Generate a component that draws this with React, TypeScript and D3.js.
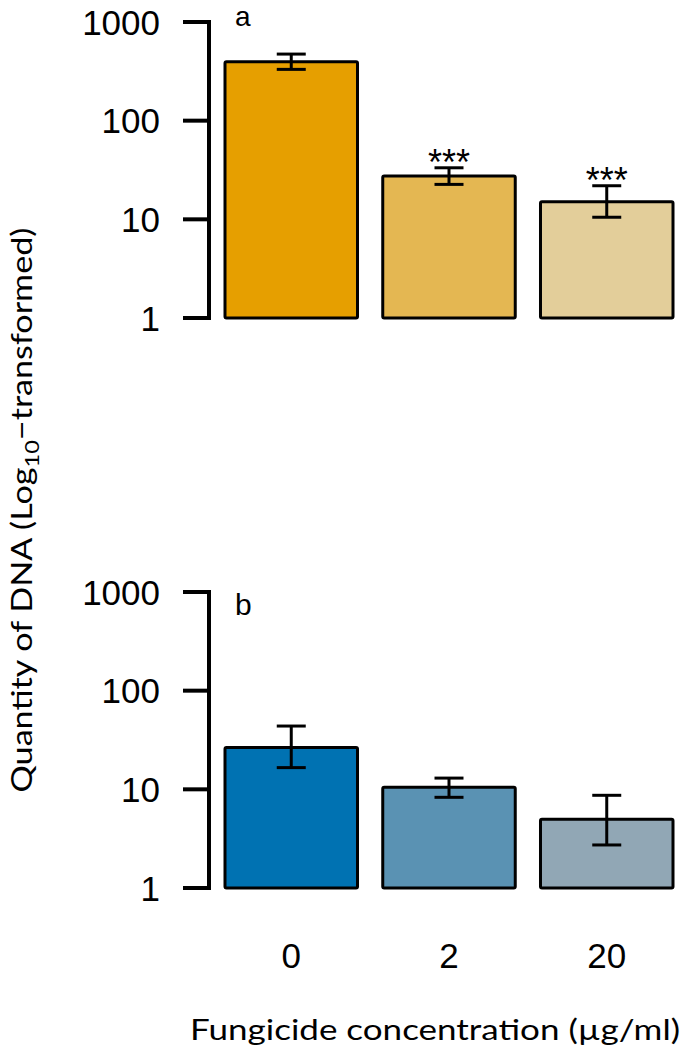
import React from "react";
import * as d3 from "d3";

const categories = ["0", "2", "20"];
const yTicks = [1, 10, 100, 1000];

const topMeans = [395, 27.5, 15.1];
const topUpper = [473, 33.3, 21.9];
const topLower = [331, 22.6, 10.5];
const topStars = ["", "***", "***"];
const topColors = ["#E69F00", "#E4B752", "#E3CE9A"];

const botMeans = [26.6, 10.5, 4.97];
const botUpper = [43.8, 13.0, 8.7];
const botLower = [16.6, 8.3, 2.73];
const botColors = ["#0072B2", "#5A92B3", "#91A7B5"];

const xTitle = "Fungicide concentration (µg/ml)";

const TICKFONT = "'Liberation Sans', Arial, Helvetica, sans-serif";
const TITLEFONT = "Lato, 'Open Sans', sans-serif";

const x = d3.scaleBand<string>().domain(categories).range([225, 673]).paddingInner(0.16).paddingOuter(0);

function Panel({ y, means, upper, lower, colors, stars, letter, letterY, letterSize }: any) {
  const axisX = 209;
  return (
    <g>
      <path d={`M${axisX - 26},${y(1000)}H${axisX}V${y(1)}H${axisX - 26}`} fill="none" stroke="#000" strokeWidth={4} strokeLinejoin="miter" />
      {yTicks.map((t) => (
        <g key={t}>
          <line x1={axisX - 26} x2={axisX} y1={y(t)} y2={y(t)} stroke="#000" strokeWidth={4} />
          <text x={160} y={y(t) + 12.5} textAnchor="end" fontFamily={TICKFONT} fontSize={35} fill="#000">
            {t}
          </text>
        </g>
      ))}
      <text x={235} y={letterY} fontFamily={TICKFONT} fontSize={letterSize} fill="#000">{letter}</text>
      {categories.map((c, i) => {
        const bx = x(c)!;
        const bw = x.bandwidth();
        const cx = bx + bw / 2;
        return (
          <g key={c}>
            <rect x={bx} y={y(means[i])} width={bw} height={y(1) - y(means[i])} fill={colors[i]} stroke="#000" strokeWidth={3} rx={1.5} />
            <line x1={cx} x2={cx} y1={y(upper[i])} y2={y(lower[i])} stroke="#000" strokeWidth={3} />
            <line x1={cx - 14.5} x2={cx + 14.5} y1={y(upper[i])} y2={y(upper[i])} stroke="#000" strokeWidth={3} />
            <line x1={cx - 14.5} x2={cx + 14.5} y1={y(lower[i])} y2={y(lower[i])} stroke="#000" strokeWidth={3} />
            {stars && stars[i] ? (
              <text x={cx} y={y(upper[i]) + 7} textAnchor="middle" fontFamily={TICKFONT} fontSize={36} fill="#000">
                {stars[i]}
              </text>
            ) : null}
          </g>
        );
      })}
    </g>
  );
}

export default function App() {
  const yTop = d3.scaleLog().domain([1, 1000]).range([318, 22]);
  const yBot = d3.scaleLog().domain([1, 1000]).range([888, 592]);
  return (
    <svg width={685} height={1048} style={{ position: "absolute", left: 0, top: 0, background: "#fff" }}>
      <rect width={685} height={1048} fill="#fff" />
      <Panel y={yTop} means={topMeans} upper={topUpper} lower={topLower} colors={topColors} stars={topStars} letter="a" letterY={26} letterSize={28} />
      <Panel y={yBot} means={botMeans} upper={botUpper} lower={botLower} colors={botColors} stars={null} letter="b" letterY={615} letterSize={30} />
      {categories.map((c) => (
        <text key={c} x={x(c)! + x.bandwidth() / 2} y={968} textAnchor="middle" fontFamily={TICKFONT} fontSize={35} fill="#000">
          {c}
        </text>
      ))}
      <text x={435} y={1040} textAnchor="middle" fontFamily={TITLEFONT} fontSize={29} fill="#000" textLength={490} lengthAdjust="spacingAndGlyphs">
        {xTitle}
      </text>
      <text transform="translate(32,510) rotate(-90)" textAnchor="middle" fontFamily={TITLEFONT} fontSize={29} fill="#000" textLength={565} lengthAdjust="spacingAndGlyphs">
        Quantity of DNA (Log<tspan fontSize={20} dy={7}>10</tspan><tspan dy={-7}>−transformed)</tspan>
      </text>
    </svg>
  );
}
